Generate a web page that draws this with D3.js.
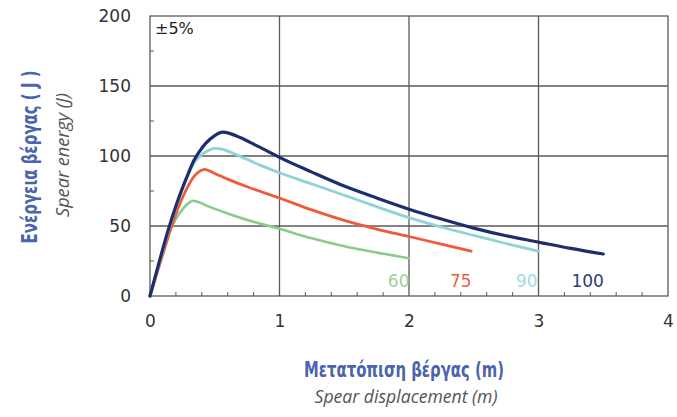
<!DOCTYPE html>
<html><head><meta charset="utf-8">
<script src="https://cdn.jsdelivr.net/npm/d3@7"></script>
<style>
html,body{margin:0;padding:0;background:#fff;}
svg{display:block;}
</style></head>
<body>
<svg id="c" width="677" height="417"></svg>
<script>
// ---- data ----
const seriesNames = ["60", "75", "90", "100"];
const disp60   = [0, 0.07, 0.14, 0.2, 0.26, 0.3, 0.33, 0.36, 0.45, 0.6, 0.8, 1.0, 1.25, 1.5, 1.75, 2.0];
const energy60 = [0, 22, 44, 55, 63, 66.5, 68, 67.5, 64, 59, 53, 48, 41.2, 35.5, 31, 27];
const disp75   = [0, 0.07, 0.14, 0.21, 0.28, 0.35, 0.39, 0.42, 0.5, 0.6, 0.75, 1.0, 1.25, 1.5, 1.75, 2.0, 2.25, 2.48];
const energy75 = [0, 21, 42, 61, 76, 86.5, 89.5, 90.5, 87.5, 83.5, 78, 70, 61.5, 54, 47.8, 42.5, 37, 32];
const disp90   = [0, 0.07, 0.14, 0.21, 0.28, 0.34, 0.4, 0.45, 0.5, 0.55, 0.7, 0.85, 1.0, 1.25, 1.5, 1.75, 2.0, 2.25, 2.5, 2.75, 3.0];
const energy90 = [0, 23, 46, 66, 83, 95, 101, 104, 105.5, 105, 99.5, 93.5, 88, 80, 72, 63.8, 56, 49.3, 43.3, 37.5, 32];
const disp100   = [0, 0.07, 0.14, 0.21, 0.28, 0.34, 0.38, 0.43, 0.5, 0.56, 0.62, 0.7, 0.8, 0.9, 1.0, 1.25, 1.5, 1.75, 2.0, 2.25, 2.5, 2.75, 3.0, 3.25, 3.5];
const energy100 = [0, 24, 47, 67, 84, 97, 103, 109, 114.5, 117, 116, 113, 108.5, 103.8, 99, 88.5, 78.5, 70, 62, 55, 48.5, 43, 38.5, 34, 30];
const xTicks = [0, 1, 2, 3, 4];
const yTicks = [0, 50, 100, 150, 200];
const yTitle = "Ενέργεια βέργας ( J )";
const ySub = "Spear energy (J)";
const xTitle = "Μετατόπιση βέργας (m)";
const xSub = "Spear displacement (m)";
const note = "±5%";

// ---- styling / layout ----
const colors = {"60": "#8bcb8c", "75": "#f05a3b", "90": "#8fd2d8", "100": "#1c2f6c"};
const labelColors = {"60": "#9dd19e", "75": "#ef5e40", "90": "#a6dbdf", "100": "#2b3c78"};
const widths = {"60": 2.6, "75": 2.8, "90": 2.8, "100": 3.2};
const labelX = {"60": 1.92, "75": 2.40, "90": 2.91, "100": 3.38};
const labelY = 6.5;

const L = 150, R = 668, T = 16, B = 296;
const x = d3.scaleLinear().domain([0, 4]).range([L, R]);
const y = d3.scaleLinear().domain([0, 200]).range([B, T]);
const svg = d3.select("#c");
const gridCol = "#5a5a5a";
const numFont = "'DejaVu Sans', Verdana, sans-serif";

const data = {
  "60": disp60.map((d, i) => [d, energy60[i]]),
  "75": disp75.map((d, i) => [d, energy75[i]]),
  "90": disp90.map((d, i) => [d, energy90[i]]),
  "100": disp100.map((d, i) => [d, energy100[i]])
};

// grid
const g = svg.append("g");
g.selectAll(".vg").data(xTicks.slice(1, -1)).enter().append("line")
  .attr("x1", d => x(d)).attr("x2", d => x(d)).attr("y1", T).attr("y2", B)
  .attr("stroke", gridCol).attr("stroke-width", 1.3);
g.selectAll(".hg").data(yTicks.slice(1, -1)).enter().append("line")
  .attr("y1", d => y(d)).attr("y2", d => y(d)).attr("x1", L).attr("x2", R)
  .attr("stroke", gridCol).attr("stroke-width", 1.3);
g.append("rect").attr("x", L).attr("y", T).attr("width", R - L).attr("height", B - T)
  .attr("fill", "none").attr("stroke", gridCol).attr("stroke-width", 1.3);

// minor ticks
const xMinor = d3.range(0, 4.001, 0.2).filter(v => Math.abs(v - Math.round(v)) > 0.01);
g.selectAll(".xm").data(xMinor).enter().append("line")
  .attr("x1", d => x(d)).attr("x2", d => x(d)).attr("y1", B).attr("y2", B - 4)
  .attr("stroke", gridCol).attr("stroke-width", 1);
const yMinor = [25, 75, 125, 175];
g.selectAll(".ym").data(yMinor).enter().append("line")
  .attr("y1", d => y(d)).attr("y2", d => y(d)).attr("x1", L).attr("x2", L + 4)
  .attr("stroke", gridCol).attr("stroke-width", 1);

// axes labels via d3 axes (lines hidden)
const xAxis = svg.append("g").attr("transform", `translate(0,${B})`)
  .call(d3.axisBottom(x).tickValues(xTicks).tickSize(0).tickPadding(19).tickFormat(d3.format("d")));
const yAxis = svg.append("g").attr("transform", `translate(${L},0)`)
  .call(d3.axisLeft(y).tickValues(yTicks).tickSize(0).tickPadding(19).tickFormat(d3.format("d")));
[xAxis, yAxis].forEach(a => {
  a.select(".domain").remove();
  a.selectAll("text").attr("font-family", numFont)
    .attr("font-size", 17).attr("fill", "#333");
});

// lines
const line = d3.line().x(d => x(d[0])).y(d => y(d[1])).curve(d3.curveMonotoneX);
seriesNames.forEach(s => {
  svg.append("path").datum(data[s]).attr("d", line)
    .attr("fill", "none").attr("stroke", colors[s]).attr("stroke-width", widths[s])
    .attr("stroke-linejoin", "round").attr("stroke-linecap", "round");
});

// series labels
seriesNames.forEach(s => {
  svg.append("text").attr("x", x(labelX[s])).attr("y", y(labelY))
    .attr("text-anchor", "middle").attr("font-family", numFont)
    .attr("font-size", 17).attr("fill", labelColors[s]).text(s);
});

// note
svg.append("text").attr("x", L + 5).attr("y", T + 18)
  .attr("font-family", numFont).attr("font-size", 16)
  .attr("fill", "#222").text(note);

// titles
const titleFont = "'DejaVu Sans', sans-serif";
const subFont = "'Open Sans', Lato, sans-serif";
svg.append("text").attr("transform", "translate(37,157) rotate(-90)")
  .attr("text-anchor", "middle").attr("font-family", titleFont).attr("font-weight", "bold")
  .attr("font-size", 21).attr("fill", "#4a64ad")
  .attr("textLength", 173).attr("lengthAdjust", "spacingAndGlyphs").text(yTitle);
svg.append("text").attr("transform", "translate(69,155) rotate(-90)")
  .attr("text-anchor", "middle").attr("font-family", subFont).attr("font-style", "italic")
  .attr("font-size", 18).attr("fill", "#555")
  .attr("textLength", 124).attr("lengthAdjust", "spacingAndGlyphs").text(ySub);
svg.append("text").attr("x", 404).attr("y", 377)
  .attr("text-anchor", "middle").attr("font-family", titleFont).attr("font-weight", "bold")
  .attr("font-size", 21).attr("fill", "#4a64ad")
  .attr("textLength", 200).attr("lengthAdjust", "spacingAndGlyphs").text(xTitle);
svg.append("text").attr("x", 406).attr("y", 403)
  .attr("text-anchor", "middle").attr("font-family", subFont).attr("font-style", "italic")
  .attr("font-size", 19).attr("fill", "#555")
  .attr("textLength", 183).attr("lengthAdjust", "spacingAndGlyphs").text(xSub);
</script>
</body></html>
